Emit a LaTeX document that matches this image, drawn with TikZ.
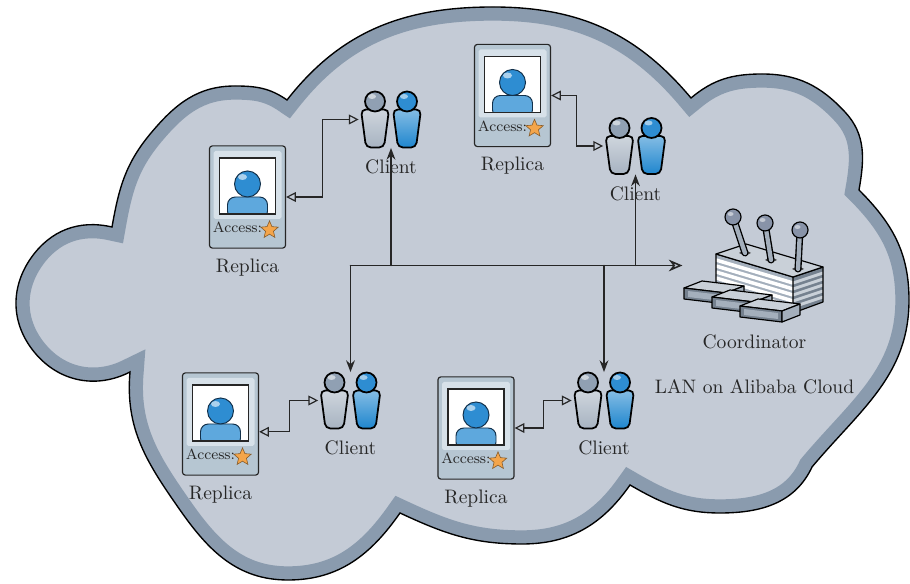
\documentclass[tikz,border=0pt]{standalone}
\usetikzlibrary{arrows.meta,positioning,shapes.geometric}

\definecolor{cloudfill}{HTML}{C4CBD6}
\definecolor{cloudband}{HTML}{8A9BAE}
\definecolor{cardfill}{HTML}{B6C6D2}
\definecolor{cardshine}{HTML}{D7E1E9}
\definecolor{ink}{HTML}{262626}
\definecolor{navy}{HTML}{12304A}
\definecolor{userblue}{HTML}{1F86CE}
\definecolor{userhead}{HTML}{2E8DD2}
\definecolor{userlight}{HTML}{5EA8DD}
\definecolor{usergray}{HTML}{A7B3C1}
\definecolor{usergrayhead}{HTML}{90A0B3}
\definecolor{staror}{HTML}{F4A54A}
\definecolor{steel}{HTML}{A4AFBC}
\definecolor{steeldark}{HTML}{75818F}
\definecolor{steellight}{HTML}{C9D0D8}
\definecolor{knob}{HTML}{8893A8}

\tikzset{flat/.style={
  x=0.018cm,y=-0.018cm,
  line cap=round
}}

\tikzset{
  card/.style={draw=ink,fill=cardfill,line width=0.6pt,rounded corners=1.5pt,
    minimum width=1.37cm,minimum height=1.84cm,inner sep=0pt},
  pair/.style={minimum width=1.15cm,minimum height=1.01cm,inner sep=0pt},
  plantbox/.style={minimum width=2.58cm,minimum height=1.98cm,inner sep=0pt},
  lbl/.style={text=ink,inner sep=2pt},
  link/.style={draw=ink,line width=0.6pt,
    {Triangle[open,length=5pt,width=5pt]}-{Triangle[open,length=5pt,width=5pt]}},
  feed/.style={draw=ink,line width=0.7pt,-{Stealth[length=6pt,width=4.5pt]}},
  bus/.style={draw=ink,line width=0.8pt,-{Stealth[open,length=7pt,width=6pt]}},
  person/.style={draw=black,line width=0.9pt,rounded corners=2.5pt},
  replica/.pic={
    \node[card] (-card) at (0,0) {};
    \fill[cardshine,rounded corners=1pt] (-34,-46) rectangle (34,22);
    \fill[white] (-28,-39) rectangle (28,17);
    \begin{scope}
      \clip (-28,-39) rectangle (28,17);
      \filldraw[fill=userlight,draw=navy,line width=0.5pt,rounded corners=4pt]
        (-20,22) -- (-20,0) -- (20,0) -- (20,22) -- cycle;
      \filldraw[fill=userhead,draw=navy,line width=0.5pt] (0,-13) circle[radius=13];
      \fill[white,opacity=0.6] (-5,-20) ellipse[x radius=4.5,y radius=3];
    \end{scope}
    \draw[ink,line width=0.8pt] (-28,-39) rectangle (28,17);
    \node[text=ink,font=\fontsize{7.6}{8}\selectfont,inner sep=0pt,anchor=base west]
      (-access) at (-35,36) {Access:};
    \node[star,star points=5,star point ratio=2.2,fill=staror,draw=staror!55!black,
      line width=0.3pt,minimum size=0.33cm,inner sep=0pt] (-star) at (22,33) {};
  },
  clientpair/.pic={
    \node[pair] (-icon) at (0,0) {};
    \foreach \dx/\bodyc/\headc in {-16/usergray/usergrayhead,16/userblue/userhead}{
      \filldraw[person,top color=\bodyc!55!white,bottom color=\bodyc]
        (\dx-14,-10) -- (\dx+14,-10) -- (\dx+9,28) -- (\dx-9,28) -- cycle;
      \filldraw[fill=\headc,draw=black,line width=0.9pt] (\dx,-18) circle[radius=10];
      \fill[white,opacity=0.55] (\dx-3,-23) ellipse[x radius=4,y radius=2.5];
    }
  }
}

% outline of the cloud, one bulge after the other
\def\cloudline{%
  (130,372) to[out=-153,in=-50] (35,353) to[out=130,in=-125] (31,258)
    to[out=55,in=167] (112,227)
  to[out=80,in=-130] (151,133) to[out=50,in=180] (235,86) to[out=0,in=145] (287,100)
  to[out=52,in=180] (493,7) to[out=0,in=130] (691,98)
  to[out=40,in=180] (762,74) to[out=0,in=133] (845,112) to[out=-47,in=80] (859,190)
  to[out=-45,in=90] (909,300) to[out=-90,in=50] (812,467)
  to[out=-115,in=0] (720,513) to[out=180,in=-30] (630,485)
  to[out=-125,in=0] (522,544) to[out=180,in=-25] (400,513)
  to[out=-125,in=0] (288,580) to[out=180,in=-55] (180,510) to[out=125,in=-95] cycle}

\begin{document}
\begin{tikzpicture}[flat]
  \useasboundingbox (0,0) rectangle (910,584);

  % cloud with its darker rim
  \fill[cloudfill] \cloudline;
  \begin{scope}
    \clip \cloudline;
    \draw[cloudband,line width=14pt,line join=miter] \cloudline;
  \end{scope}
  \draw[black,line width=0.7pt,line join=miter] \cloudline;

  \pic (r1) at (247.5,197) {replica};
  \pic (r2) at (512.5,95.5) {replica};
  \pic (r3) at (220.5,424) {replica};
  \pic (r4) at (476,428) {replica};

  \pic (c1) at (391,119.5) {clientpair};
  \pic (c2) at (635.5,146) {clientpair};
  \pic (c3) at (350.5,400.5) {clientpair};
  \pic (c4) at (604,400.5) {clientpair};

  % coordinator plant
  \node[plantbox] (coord) at (754.5,265.5) {};
  \begin{scope}[draw=black,line width=0.6pt,line join=round]
    \fill[steel] (716,254) -- (793,277) -- (793,313) -- (716,290) -- cycle;
    \fill[steeldark] (793,277) -- (823,267) -- (823,302) -- (793,313) -- cycle;
    \foreach \s in {6,12,18,24,30}{
      \draw[white,line width=1.8pt,line cap=butt] (716,254+\s) -- (793,277+\s);
      \draw[steellight,line width=1.5pt,line cap=butt] (793,277+\s) -- (823,267+\s);
    }
    \draw (716,254) -- (793,277) -- (793,313) -- (716,290) -- cycle;
    \draw (793,277) -- (823,267) -- (823,302) -- (793,313);
    \filldraw[fill=steellight] (716,254) -- (746,244) -- (823,267) -- (793,277) -- cycle;
    \foreach \bx/\by/\ex/\ey in {733/217/745/253, 765/223/771/260, 800/230/798/269}{
      \fill[black!75] (\ex-6,\ey) -- (\ex,\ey-3) -- (\ex+6,\ey) -- (\ex,\ey+3) -- cycle;
      \draw[line width=3.6pt,black] (\bx,\by) -- (\ex,\ey);
      \draw[line width=2.2pt,steel] (\bx,\by) -- (\ex,\ey);
      \filldraw[fill=knob] (\bx,\by) circle[radius=8];
      \fill[white,opacity=0.5] (\bx-2.5,\by-3) ellipse[x radius=3,y radius=2];
    }
    \foreach \o/\p in {0/0,28/9,56/18}{
      \filldraw[fill=steellight] (684+\o,288+\p) -- (702+\o,281+\p) -- (744+\o,286+\p) -- (726+\o,293+\p) -- cycle;
      \filldraw[fill=steeldark] (684+\o,288+\p) -- (726+\o,293+\p) -- (726+\o,304+\p) -- (684+\o,299+\p) -- cycle;
      \fill[steel] (688+\o,291+\p) -- (722+\o,295+\p) -- (722+\o,301+\p) -- (688+\o,297+\p) -- cycle;
      \filldraw[fill=steel] (726+\o,293+\p) -- (744+\o,286+\p) -- (744+\o,297+\p) -- (726+\o,304+\p) -- cycle;
    }
  \end{scope}

  % labels
  \node[lbl,below=3pt of r1-card] (r1-name) {Replica};
  \node[lbl,below=3pt of r2-card] (r2-name) {Replica};
  \node[lbl,below=3pt of r3-card] (r3-name) {Replica};
  \node[lbl,below=3pt of r4-card] (r4-name) {Replica};
  \node[lbl,below=4pt of c1-icon] (c1-name) {Client};
  \node[lbl,below=4pt of c2-icon] (c2-name) {Client};
  \node[lbl,below=4pt of c3-icon] (c3-name) {Client};
  \node[lbl,below=4pt of c4-icon] (c4-name) {Client};
  \node[lbl,below=5pt of coord] (coord-name) {Coordinator};
  \node[lbl,below=11pt of coord-name] (lan) {LAN on Alibaba Cloud};

  % requests over the LAN
  \coordinate (hub) at (c3-icon.north |- coord.west);
  \draw[bus] (hub) -- (coord.west);
  \draw[feed] (hub) -- (c3-icon.north);
  \draw[feed] (c4-icon.north |- hub) -- (c4-icon.north);
  \draw[feed] (c1-icon.south |- hub) -- (c1-icon.south);
  \draw[feed] (c2-icon.south |- hub) -- (c2-icon.south);

  % replica access
  \draw[link] (r1-card.east) -- ++(36,0) |- (c1-icon.west);
  \draw[link] (r2-card.east) -- ++(25,0) |- (c2-icon.west);
  \draw[link] ([yshift=-4pt]r3-card.east) -- ++(30,0) |- (c3-icon.west);
  \draw[link] (r4-card.east) -- ++(29,0) |- (c4-icon.west);
\end{tikzpicture}
\end{document}
